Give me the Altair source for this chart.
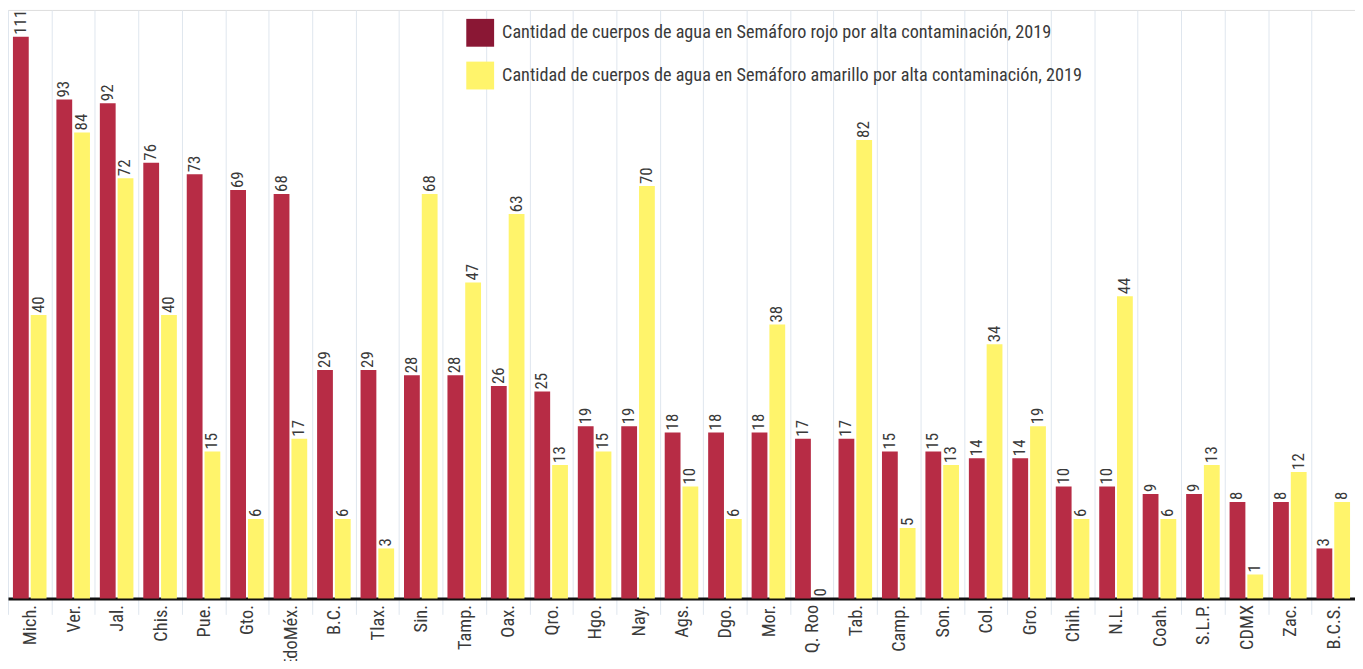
import altair as alt
import pandas as pd

estados = ["Mich.", "Ver.", "Jal.", "Chis.", "Pue.", "Gto.", "EdoMéx.", "B.C.", "Tlax.", "Sin.",
           "Tamp.", "Oax.", "Qro.", "Hgo.", "Nay.", "Ags.", "Dgo.", "Mor.", "Q. Roo", "Tab.",
           "Camp.", "Son.", "Col.", "Gro.", "Chih.", "N.L.", "Coah.", "S.L.P.", "CDMX", "Zac.", "B.C.S."]
rojo = [111, 93, 92, 76, 73, 69, 68, 29, 29, 28, 28, 26, 25, 19, 19, 18, 18, 18, 17, 17,
        15, 15, 14, 14, 10, 10, 9, 9, 8, 8, 3]
amarillo = [40, 84, 72, 40, 15, 6, 17, 6, 3, 68, 47, 63, 13, 15, 70, 10, 6, 38, 0, 82,
            5, 13, 34, 19, 6, 44, 6, 13, 1, 12, 8]
series = ["Cantidad de cuerpos de agua en Semáforo rojo por alta contaminación, 2019",
          "Cantidad de cuerpos de agua en Semáforo amarillo por alta contaminación, 2019"]

rows = []
for e, r, a in zip(estados, rojo, amarillo):
    rows.append({"estado": e, "serie": series[0], "valor": r})
    rows.append({"estado": e, "serie": series[1], "valor": a})
df = pd.DataFrame(rows)

FONT = "Liberation Sans Narrow, Roboto Condensed, Liberation Sans, sans-serif"
TXT = "#3a3a3a"

x = alt.X("estado:N", sort=estados, title=None,
          scale=alt.Scale(paddingInner=0, paddingOuter=0),
          axis=alt.Axis(labelAngle=-90, labelFont=FONT, labelFontSize=18.5, labelColor=TXT,
                        tickBand="extent", grid=True, gridColor="#dfe6ee", gridWidth=1,
                        tickColor="#dfe6ee", tickSize=16, labelPadding=-10,
                        domainColor="#111111", domainWidth=3))
xo = alt.XOffset("serie:N", sort=series,
                 scale=alt.Scale(paddingInner=0.111, paddingOuter=0.278))
y = alt.Y("valor:Q", axis=None,
          scale=alt.Scale(type="pow", exponent=0.67, domain=[0, 119]))

bars = alt.Chart(df).mark_bar().encode(
    x=x, xOffset=xo, y=y,
    color=alt.Color("serie:N", sort=series, legend=None,
                    scale=alt.Scale(domain=series, range=["#b72c45", "#fff46b"])),
)

labels = alt.Chart(df).mark_text(angle=270, align="left", baseline="middle", dx=2,
                                 font=FONT, fontSize=17, color=TXT).encode(
    x=x, xOffset=xo, y=y, text="valor:Q"
)

legend_layer = alt.Chart(df).mark_square(opacity=0).encode(
    x=x, xOffset=xo, y=y,
    color=alt.Color("serie:N", sort=series,
                    scale=alt.Scale(domain=series, range=["#8a1734", "#fff46b"]),
                    legend=alt.Legend(title=None, orient="none", legendX=461, legendY=9,
                                      symbolType="square", symbolSize=784, symbolOpacity=1,
                                      symbolStrokeWidth=0, labelFont=FONT, labelFontSize=18.3,
                                      labelColor=TXT, labelOffset=8, rowPadding=15,
                                      labelLimit=0)),
)

chart = alt.layer(bars, labels, legend_layer).resolve_scale(color="independent").properties(
    width=1355, height=592,
    autosize=alt.AutoSizeParams(type="none"),
    padding={"left": 0, "top": 0, "right": 0, "bottom": 61},
).configure_view(strokeWidth=0).configure(background="white")

chart.save("out.html", embed_options={"renderer": "svg", "actions": False})
